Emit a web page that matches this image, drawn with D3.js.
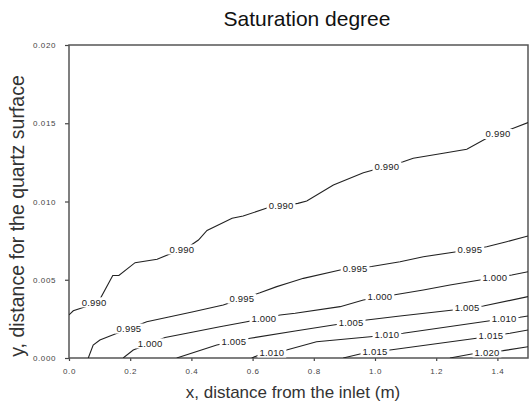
<!DOCTYPE html>
<html>
<head>
<meta charset="utf-8">
<script src="https://cdn.jsdelivr.net/npm/d3@7"></script>
<style>
  body { margin: 0; background: #fff; }
  svg { display: block; font-family: "Liberation Sans", Arial, sans-serif; }
</style>
</head>
<body>
<div id="chart"></div>
<script>
// contour levels and their traced polylines (x in m, y in m)
const levels = ["0.990", "0.995", "1.000", "1.005", "1.010", "1.015", "1.020"];

const c0990 = [[0, 0.00275], [0.014, 0.00302], [0.056, 0.00329], [0.101, 0.00375], [0.143, 0.00527],
  [0.163, 0.00527], [0.216, 0.00609], [0.288, 0.00631], [0.330, 0.00665], [0.390, 0.00709],
  [0.423, 0.00754], [0.451, 0.00815], [0.533, 0.00893], [0.569, 0.00907], [0.647, 0.00958],
  [0.748, 0.00988], [0.777, 0.01003], [0.864, 0.01105], [0.962, 0.01184], [1.092, 0.01254],
  [1.125, 0.01276], [1.223, 0.01308], [1.300, 0.01334], [1.365, 0.01404], [1.452, 0.01468], [1.5, 0.01504]];
const c0995 = [[0.063, 0], [0.079, 0.00083], [0.101, 0.00115], [0.134, 0.00141], [0.254, 0.00232],
  [0.330, 0.00264], [0.406, 0.00296], [0.504, 0.00339], [0.624, 0.00417], [0.679, 0.00456],
  [0.722, 0.00482], [0.766, 0.00509], [0.886, 0.00562], [0.989, 0.00585], [1.082, 0.00615],
  [1.158, 0.00647], [1.267, 0.00679], [1.365, 0.00711], [1.430, 0.00743], [1.5, 0.00780]];
const c1000 = [[0.177, 0], [0.210, 0.00051], [0.314, 0.00131], [0.406, 0.00166], [0.493, 0.00200],
  [0.581, 0.00232], [0.690, 0.00275], [0.739, 0.00286], [0.886, 0.00328], [0.962, 0.00371],
  [1.060, 0.00403], [1.158, 0.00435], [1.245, 0.00466], [1.343, 0.00498], [1.447, 0.00530], [1.5, 0.00551]];
const c1005 = [[0.352, 0], [0.483, 0.00083], [0.592, 0.00126], [0.739, 0.00173], [0.864, 0.00211],
  [0.973, 0.00243], [1.082, 0.00268], [1.256, 0.00307], [1.354, 0.00332], [1.5, 0.00392]];
const c1010 = [[0.597, 0], [0.624, 0.00022], [0.711, 0.00051], [0.809, 0.00104], [0.984, 0.00136],
  [1.092, 0.00158], [1.376, 0.00238], [1.474, 0.00260], [1.5, 0.00268]];
const c1015 = [[0.896, 0], [0.951, 0.00026], [1.049, 0.00051], [1.332, 0.00126], [1.441, 0.00158], [1.5, 0.00179]];
const c1020 = [[1.245, 0], [1.316, 0.00026], [1.419, 0.00047], [1.5, 0.00072]];

const contours = [c0990, c0995, c1000, c1005, c1010, c1015, c1020];

// x positions (m) where each level is labelled
const labelX = [
  [0.082, 0.369, 0.693, 1.039, 1.402],
  [0.196, 0.565, 0.935, 1.310],
  [0.265, 0.637, 1.016, 1.392],
  [0.539, 0.922, 1.301],
  [0.663, 1.039, 1.422],
  [1.000, 1.379],
  [1.366]
];

const xTicks = [0, 0.2, 0.4, 0.6, 0.8, 1.0, 1.2, 1.4];
const yTicks = [0, 0.005, 0.010, 0.015, 0.020];

const W = 529, H = 404;
const svg = d3.select("#chart").append("svg")
  .attr("width", W)
  .attr("height", H);

const x = d3.scaleLinear().domain([0, 1.5]).range([69, 528]);
const y = d3.scaleLinear().domain([0, 0.02]).range([358, 45]);

// clip for the contour lines
svg.append("clipPath").attr("id", "plot")
  .append("rect")
  .attr("x", x(0)).attr("y", y(0.02))
  .attr("width", x(1.5) - x(0)).attr("height", y(0) - y(0.02));

// axes
const yAxis = svg.append("g")
  .attr("transform", "translate(" + x(0) + ",0)")
  .call(d3.axisLeft(y).tickValues(yTicks).tickFormat(d3.format(".3f")).tickSize(4).tickPadding(9));
const xAxis = svg.append("g")
  .attr("transform", "translate(0," + y(0) + ")")
  .call(d3.axisBottom(x).tickValues(xTicks).tickFormat(d3.format(".1f")).tickSize(3).tickPadding(7));

[xAxis, yAxis].forEach(a => {
  a.select(".domain").remove();
  a.selectAll(".tick line").attr("stroke", "#444").attr("stroke-width", 1.2);
  a.selectAll(".tick text")
    .attr("fill", "#444")
    .style("font-family", "'Liberation Sans', Arial, sans-serif")
    .style("font-size", "8px")
    .style("letter-spacing", "0.6px");
});

// plot frame
svg.append("rect")
  .attr("x", x(0)).attr("y", y(0.02))
  .attr("width", x(1.5) - x(0)).attr("height", y(0) - y(0.02))
  .attr("fill", "none")
  .attr("stroke", "#555")
  .attr("stroke-width", 1.5);

const line = d3.line().x(d => x(d[0])).y(d => y(d[1]));

// interpolate y of a polyline at a given x
function yAt(pts, xv) {
  for (let i = 1; i < pts.length; i++) {
    if (xv <= pts[i][0]) {
      const a = pts[i - 1], b = pts[i];
      const t = (xv - a[0]) / (b[0] - a[0]);
      return a[1] + t * (b[1] - a[1]);
    }
  }
  return pts[pts.length - 1][1];
}

const cg = svg.append("g").attr("clip-path", "url(#plot)");

contours.forEach((pts, i) => {
  cg.append("path")
    .datum(pts)
    .attr("d", line)
    .attr("fill", "none")
    .attr("stroke", "#222")
    .attr("stroke-width", 1.1);

  labelX[i].forEach(lx => {
    const px = x(lx), py = y(yAt(pts, lx));
    const g = cg.append("g");
    const bg = g.append("rect").attr("fill", "#fff");
    const t = g.append("text")
      .attr("x", px).attr("y", py + 3.3)
      .attr("text-anchor", "middle")
      .attr("fill", "#222")
      .style("font-size", "9.5px")
      .style("letter-spacing", "0.2px")
      .text(levels[i]);
    const w = t.node().getComputedTextLength();
    bg.attr("x", px - w / 2 - 2).attr("y", py - 5)
      .attr("width", w + 4).attr("height", 10);
  });
});

// title
svg.append("text")
  .attr("x", 307).attr("y", 26)
  .attr("text-anchor", "middle")
  .attr("fill", "#111")
  .style("font-size", "21px")
  .text("Saturation degree");

// axis titles
svg.append("text")
  .attr("x", 293).attr("y", 398)
  .attr("text-anchor", "middle")
  .attr("fill", "#333")
  .style("font-size", "17px")
  .text("x, distance from the inlet (m)");

svg.append("text")
  .attr("transform", "translate(24,216) rotate(-90)")
  .attr("text-anchor", "middle")
  .attr("fill", "#333")
  .style("font-size", "19.5px")
  .text("y, distance for the quartz surface");
</script>
</body>
</html>
